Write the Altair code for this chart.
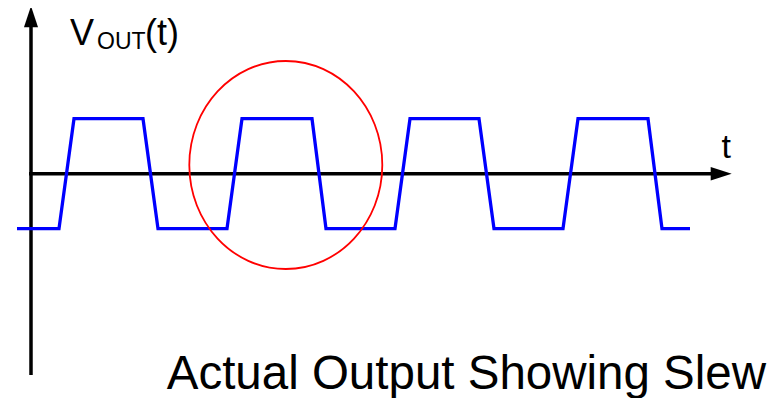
import altair as alt
import pandas as pd

# Waveform (time in px-like units from the vertical axis, voltage in units of amplitude)
wave_t = [-14, 28, 43, 112, 127, 196, 211, 281, 295, 364, 379, 448, 463, 532, 547, 617, 631, 659]
wave_v = [-1, -1, 1, 1, -1, -1, 1, 1, -1, -1, 1, 1, -1, -1, 1, 1, -1, -1]

# Axis lines (start/end)
axis_t = [0, -2]
axis_t2 = [0, 683]
axis_v = [-3.66, 0]
axis_v2 = [2.7, 0]

# Arrowheads
yarrow_t, yarrow_v = [0], [2.855]
xarrow_t, xarrow_v = [690.2], [0]

# Highlight ellipse center
ell_t, ell_v = [254.8], [0.158]

# Labels
lab_text = ["V", "OUT", "(t)", "t", "Actual Output Showing Slew"]
lab_t = [39, 66, 114, 690.5, 135.7]
lab_v = [2.34, 2.267, 2.34, 0.285, -3.915]
lab_size = [36, 23, 36, 34, 47.5]

XS = alt.Scale(domain=[-23, 745], nice=False, zero=False)
YS = alt.Scale(domain=[-4.078, 3.0127], nice=False, zero=False)

wave_df = pd.DataFrame({"t": wave_t, "v": wave_v, "i": list(range(len(wave_t)))})
axis_df = pd.DataFrame({"t": axis_t, "t2": axis_t2, "v": axis_v, "v2": axis_v2})

axes = alt.Chart(axis_df).mark_rule(color="black", strokeWidth=3.5, strokeCap="butt").encode(
    x=alt.X("t:Q", scale=XS, axis=None), x2="t2:Q",
    y=alt.Y("v:Q", scale=YS, axis=None), y2="v2:Q",
)

yarrow = alt.Chart(pd.DataFrame({"t": yarrow_t, "v": yarrow_v})).mark_point(
    shape="M 0 -1 L 0.66 1 L -0.66 1 Z", size=(2 * 10.65) ** 2, filled=True,
    color="black", opacity=1, strokeWidth=0,
).encode(x=alt.X("t:Q", scale=XS, axis=None), y=alt.Y("v:Q", scale=YS, axis=None))

xarrow = alt.Chart(pd.DataFrame({"t": xarrow_t, "v": xarrow_v})).mark_point(
    shape="M 1 0 L -1 0.64 L -1 -0.64 Z", size=(2 * 10.5) ** 2, filled=True,
    color="black", opacity=1, strokeWidth=0,
).encode(x=alt.X("t:Q", scale=XS, axis=None), y=alt.Y("v:Q", scale=YS, axis=None))

wave = alt.Chart(wave_df).mark_line(color="#0000FF", strokeWidth=3.3, strokeJoin="miter").encode(
    x=alt.X("t:Q", scale=XS, axis=None), y=alt.Y("v:Q", scale=YS, axis=None), order="i:Q"
)

ellipse = alt.Chart(pd.DataFrame({"t": ell_t, "v": ell_v})).mark_point(
    shape="M -1 0 A 1 1.0777 0 1 1 1 0 A 1 1.0777 0 1 1 -1 0 Z",
    size=(2 * 96.5) ** 2, filled=False, color="#FF0000", strokeWidth=1.8, opacity=1,
).encode(x=alt.X("t:Q", scale=XS, axis=None), y=alt.Y("v:Q", scale=YS, axis=None))

lab_df = pd.DataFrame({"txt": lab_text, "t": lab_t, "v": lab_v, "s": lab_size})
labels = alt.Chart(lab_df).mark_text(
    align="left", baseline="alphabetic", font="Liberation Sans", color="black"
).encode(
    x=alt.X("t:Q", scale=XS, axis=None), y=alt.Y("v:Q", scale=YS, axis=None),
    text="txt:N", size=alt.Size("s:Q", scale=None, legend=None),
)

chart = alt.layer(axes, yarrow, xarrow, wave, ellipse, labels).properties(
    width=768, height=390, padding=0, autosize=alt.AutoSizeParams(type="none"),
    background="white",
).configure_view(stroke=None)

chart.save("out.html", embed_options={"renderer": "svg", "actions": False})
